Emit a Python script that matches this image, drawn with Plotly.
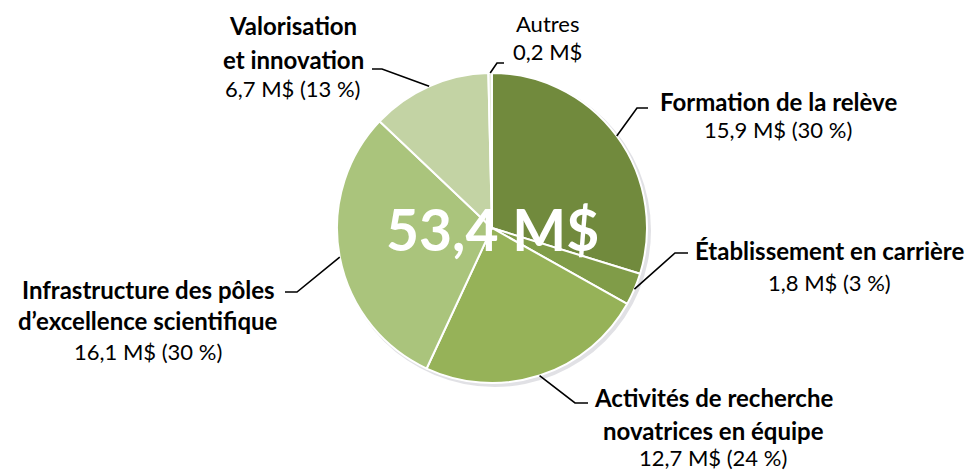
import math
import plotly.graph_objects as go

# ---------------- data ----------------
categories = [
    "Formation de la relève",
    "Établissement en carrière",
    "Activités de recherche novatrices en équipe",
    "Infrastructure des pôles d’excellence scientifique",
    "Valorisation et innovation",
    "Autres",
]
values = [15.9, 1.8, 12.7, 16.1, 6.7, 0.2]
value_labels = ["15,9 M$ (30 %)", "1,8 M$ (3 %)", "12,7 M$ (24 %)",
                "16,1 M$ (30 %)", "6,7 M$ (13 %)", "0,2 M$"]
title_lines = [
    ["Formation de la relève"],
    ["Établissement en carrière"],
    ["Activités de recherche", "novatrices en équipe"],
    ["Infrastructure des pôles", "d’excellence scientifique"],
    ["Valorisation", "et innovation"],
    ["Autres"],
]
title_bold = [True, True, True, True, True, False]
center_text = "53,4 M$"

# ---------------- layout / style ----------------
W, H = 973, 470
CX, CY, R = 492, 228, 155
colors = ["#718A3D", "#809C48", "#96B258", "#AAC47C", "#C3D3A4", "#E6ECDA"]
FONT = "Lato"
BOLD_SIZE = 24
REG_SIZE = 22

# label layout: leader elbow, leader end, text centre x, line y centres
label_layout = [
    dict(elbow=(637, 108), end=(648, 108), x=778, ys=[101, 129]),
    dict(elbow=(675, 253), end=(688, 253), x=829, ys=[250, 282]),
    dict(elbow=(575, 403), end=(588, 403), x=713, ys=[397, 430, 457]),
    dict(elbow=(297, 292), end=(285, 292), x=148, ys=[289, 320, 351]),
    dict(elbow=(382, 69), end=(372, 69), x=293, ys=[26, 59, 88]),
    dict(elbow=(497, 63), end=(504, 63), x=547, ys=[23, 52]),
]


def px(x):
    return x / W


def py(y):
    return 1 - y / H


fig = go.Figure()
fig.add_trace(go.Pie(
    labels=categories,
    values=values,
    sort=False,
    direction="clockwise",
    rotation=0,
    textinfo="none",
    hoverinfo="label+value",
    marker=dict(colors=colors, line=dict(color="white", width=2)),
    domain=dict(x=[px(CX - R), px(CX + R)], y=[py(CY + R), py(CY - R)]),
    showlegend=False,
))

shapes = []
# soft shadow behind the pie
shapes.append(dict(type="circle", xref="paper", yref="paper", layer="below",
                   x0=px(CX - R + 1), x1=px(CX + R + 4),
                   y0=py(CY + R + 4), y1=py(CY - R + 1),
                   fillcolor="rgba(90,90,110,0.18)", line=dict(width=0)))

annotations = []
total = sum(values)
cum = 0.0
for i, v in enumerate(values):
    mid = (cum + v / 2) / total * 2 * math.pi
    cum += v
    ax = CX + R * math.sin(mid)
    ay = CY - R * math.cos(mid)
    lay = label_layout[i]
    ex, ey = lay["elbow"]
    nx, ny = lay["end"]
    path = f"M {px(ax)} {py(ay)} L {px(ex)} {py(ey)} L {px(nx)} {py(ny)}"
    shapes.append(dict(type="path", xref="paper", yref="paper", path=path,
                       line=dict(color="black", width=1.6)))
    lines = [(t, title_bold[i]) for t in title_lines[i]] + [(value_labels[i], False)]
    for (txt, bold), y in zip(lines, lay["ys"]):
        annotations.append(dict(
            x=px(lay["x"]), y=py(y), xref="paper", yref="paper",
            xanchor="center", yanchor="middle", showarrow=False,
            text=f"<b>{txt}</b>" if bold else txt,
            font=dict(family=FONT, size=BOLD_SIZE if bold else REG_SIZE,
                      color="black"),
        ))

annotations.append(dict(
    x=px(CX), y=py(CY + 1), xref="paper", yref="paper",
    xanchor="center", yanchor="middle", showarrow=False,
    text=f"<b>{center_text}</b>",
    font=dict(family=FONT, size=57, color="white"),
))

fig.update_layout(
    width=W, height=H,
    margin=dict(l=0, r=0, t=0, b=0),
    paper_bgcolor="white", plot_bgcolor="white",
    shapes=shapes, annotations=annotations,
)

fig.write_html("out.html",
               config={"displayModeBar": False},
               post_script="document.body.style.margin='0';"
                           "document.body.style.overflow='hidden';")
